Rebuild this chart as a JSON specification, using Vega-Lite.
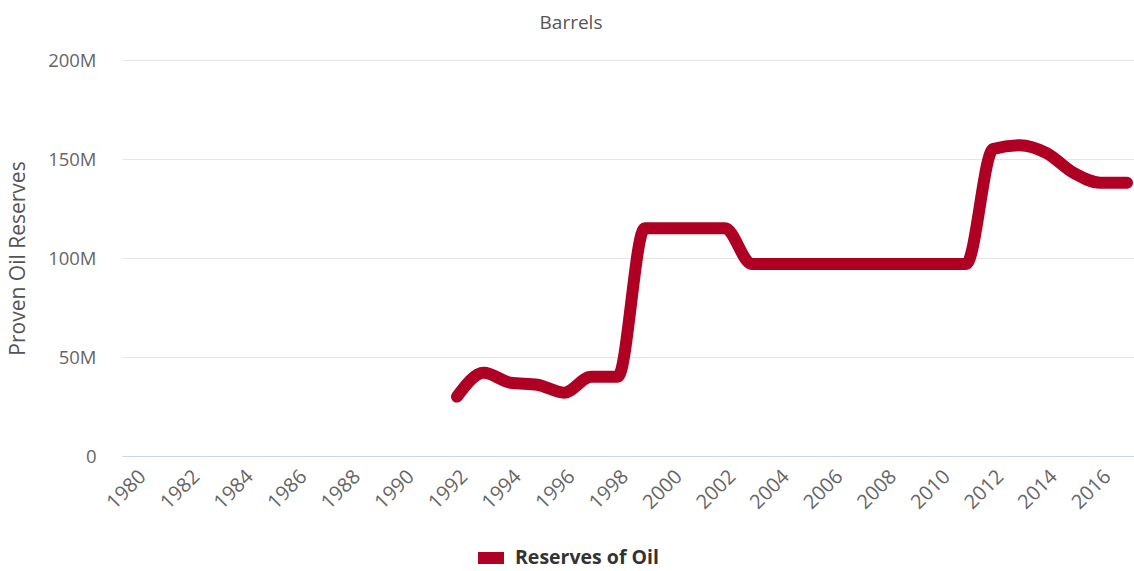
{
  "$schema": "https://vega.github.io/schema/vega-lite/v6.json",
  "autosize": "none",
  "width": 1012,
  "height": 396,
  "padding": {"left": 122, "top": 60, "right": 0, "bottom": 115},
  "background": "white",
  "title": {
    "text": "Barrels",
    "font": "Open Sans",
    "fontSize": 19,
    "fontWeight": "normal",
    "color": "#555555",
    "anchor": "middle",
    "baseline": "alphabetic",
    "offset": 3,
    "dx": -57
  },
  "config": {
    "view": {"stroke": null},
    "font": "Open Sans"
  },
  "data": {
    "values": [
      {"year": 1992, "value": 30000000, "series": "Reserves of Oil"},
      {"year": 1993, "value": 42000000, "series": "Reserves of Oil"},
      {"year": 1994, "value": 37000000, "series": "Reserves of Oil"},
      {"year": 1995, "value": 36000000, "series": "Reserves of Oil"},
      {"year": 1996, "value": 32000000, "series": "Reserves of Oil"},
      {"year": 1997, "value": 40000000, "series": "Reserves of Oil"},
      {"year": 1998, "value": 40000000, "series": "Reserves of Oil"},
      {"year": 1999, "value": 115000000, "series": "Reserves of Oil"},
      {"year": 2000, "value": 115000000, "series": "Reserves of Oil"},
      {"year": 2001, "value": 115000000, "series": "Reserves of Oil"},
      {"year": 2002, "value": 115000000, "series": "Reserves of Oil"},
      {"year": 2003, "value": 97000000, "series": "Reserves of Oil"},
      {"year": 2004, "value": 97000000, "series": "Reserves of Oil"},
      {"year": 2005, "value": 97000000, "series": "Reserves of Oil"},
      {"year": 2006, "value": 97000000, "series": "Reserves of Oil"},
      {"year": 2007, "value": 97000000, "series": "Reserves of Oil"},
      {"year": 2008, "value": 97000000, "series": "Reserves of Oil"},
      {"year": 2009, "value": 97000000, "series": "Reserves of Oil"},
      {"year": 2010, "value": 97000000, "series": "Reserves of Oil"},
      {"year": 2011, "value": 97000000, "series": "Reserves of Oil"},
      {"year": 2012, "value": 155000000, "series": "Reserves of Oil"},
      {"year": 2013, "value": 157000000, "series": "Reserves of Oil"},
      {"year": 2014, "value": 153000000, "series": "Reserves of Oil"},
      {"year": 2015, "value": 143000000, "series": "Reserves of Oil"},
      {"year": 2016, "value": 138000000, "series": "Reserves of Oil"},
      {"year": 2017, "value": 138000000, "series": "Reserves of Oil"}
    ]
  },
  "mark": {
    "type": "line",
    "interpolate": "monotone",
    "strokeWidth": 12,
    "strokeCap": "round",
    "strokeJoin": "round"
  },
  "encoding": {
    "x": {
      "field": "year",
      "type": "quantitative",
      "scale": {"domain": [1979.5, 2017.26], "nice": false, "zero": false},
      "axis": {
        "title": null,
        "values": [1980, 1982, 1984, 1986, 1988, 1990, 1992, 1994, 1996, 1998, 2000, 2002, 2004, 2006, 2008, 2010, 2012, 2014, 2016],
        "format": "d",
        "labelAngle": -45,
        "labelFontSize": 20,
        "labelColor": "#666666",
        "labelPadding": 10,
        "labelDx": -6,
        "labelDy": 2,
        "labelFlush": false,
        "labelOverlap": false,
        "grid": false,
        "ticks": false,
        "domain": true,
        "domainColor": "#ccd6eb",
        "domainWidth": 1
      }
    },
    "y": {
      "field": "value",
      "type": "quantitative",
      "scale": {"domain": [0, 200000000], "nice": false},
      "axis": {
        "title": "Proven Oil Reserves",
        "values": [0, 50000000, 100000000, 150000000, 200000000],
        "labelExpr": "datum.value == 0 ? '0' : (datum.value / 1000000) + 'M'",
        "labelFontSize": 18.5,
        "labelColor": "#666666",
        "labelPadding": 26,
        "grid": true,
        "gridColor": "#e6e6e6",
        "gridWidth": 1,
        "domain": false,
        "ticks": false,
        "titleFontSize": 21,
        "titleFontWeight": "normal",
        "titleColor": "#555555",
        "titleX": -104,
        "titleY": 198,
        "titleAngle": -90,
        "titleAlign": "center",
        "titleBaseline": "middle"
      }
    },
    "color": {
      "field": "series",
      "type": "nominal",
      "scale": {"range": ["#af0023"]},
      "legend": {
        "title": null,
        "orient": "none",
        "legendX": 356,
        "legendY": 485,
        "direction": "horizontal",
        "padding": 0,
        "symbolType": "M-1,-0.46H1V0.46H-1Z",
        "symbolSize": 676,
        "symbolFillColor": "#af0023",
        "symbolStrokeWidth": 0,
        "labelFontSize": 19.5,
        "labelFontWeight": "bold",
        "labelColor": "#333333",
        "labelOffset": 11
      }
    }
  }
}
